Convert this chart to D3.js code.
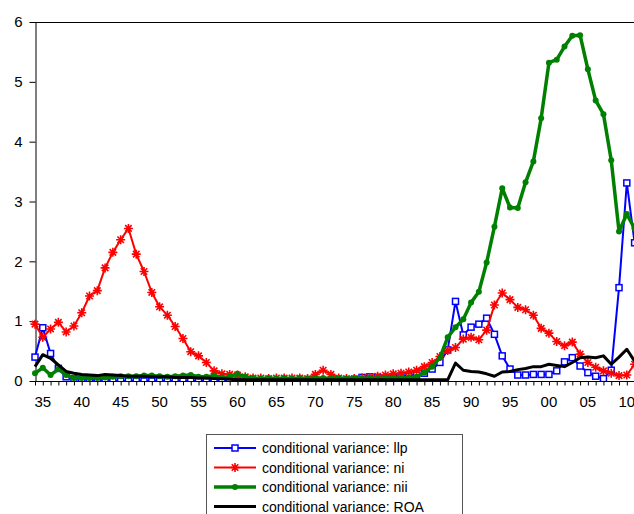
<!DOCTYPE html>
<html>
<head>
<meta charset="utf-8">
<script src="https://cdn.jsdelivr.net/npm/d3@7"></script>
<style>
  body { margin: 0; background: #fff; }
  svg { display: block; font-family: "Liberation Sans", Arial, sans-serif; }
</style>
</head>
<body>
<div id="chart"></div>
<script>
// anos 1934..2011, um valor por ano
const anos = d3.range(1934, 2012);

const llp = [
  0.40, 0.89, 0.46, 0.21, 0.07, 0.04,                               // 1934-39
  0.03, 0.02, 0.02, 0.01, 0.00, 0.00, 0.00, 0.00, 0.00, 0.00,       // 1940s
  0.00, 0.00, 0.00, 0.00, 0.00, 0.00, 0.00, 0.00, 0.00, 0.00,       // 1950s
  0.00, 0.00, 0.00, 0.00, 0.00, 0.00, 0.00, 0.00, 0.00, 0.00,       // 1960s
  0.00, 0.00, 0.00, 0.00, 0.01, 0.02, 0.06, 0.07, 0.06, 0.05,       // 1970s
  0.06, 0.08, 0.09, 0.10, 0.13, 0.20, 0.31, 0.52, 1.33, 0.77,       // 1980s
  0.90, 0.95, 1.05, 0.78, 0.42, 0.20, 0.10, 0.10, 0.11, 0.11,       // 1990s
  0.11, 0.17, 0.32, 0.39, 0.25, 0.14, 0.08, 0.04, 0.18, 1.56,       // 2000s
  3.31, 2.31                                                        // 2010-11
];
const ni = [
  0.95, 0.73, 0.87, 0.98, 0.82, 0.92,
  1.14, 1.42, 1.51, 1.89, 2.15, 2.36, 2.55, 2.12, 1.83, 1.48,
  1.24, 1.10, 0.91, 0.71, 0.49, 0.42, 0.31, 0.17, 0.12, 0.11,
  0.10, 0.07, 0.05, 0.05, 0.04, 0.05, 0.05, 0.05, 0.05, 0.04,
  0.11, 0.18, 0.11, 0.05, 0.04, 0.04, 0.05, 0.06, 0.08, 0.10,
  0.12, 0.13, 0.15, 0.18, 0.24, 0.31, 0.41, 0.51, 0.56, 0.70,
  0.73, 0.69, 0.85, 1.27, 1.47, 1.36, 1.23, 1.19, 1.10, 0.88,
  0.80, 0.66, 0.59, 0.65, 0.45, 0.31, 0.23, 0.17, 0.13, 0.09,
  0.10, 0.28
];
const nii = [
  0.13, 0.22, 0.10, 0.20, 0.10, 0.05,
  0.05, 0.05, 0.05, 0.06, 0.07, 0.08, 0.08, 0.08, 0.09, 0.09,
  0.08, 0.07, 0.08, 0.09, 0.10, 0.07, 0.07, 0.09, 0.06, 0.07,
  0.12, 0.07, 0.05, 0.04, 0.05, 0.04, 0.05, 0.04, 0.05, 0.04,
  0.05, 0.05, 0.04, 0.05, 0.04, 0.05, 0.04, 0.05, 0.04, 0.05,
  0.05, 0.05, 0.06, 0.07, 0.14, 0.24, 0.39, 0.73, 0.90, 1.03,
  1.31, 1.49, 1.98, 2.58, 3.22, 2.90, 2.89, 3.32, 3.67, 4.39,
  5.32, 5.37, 5.59, 5.77, 5.78, 5.21, 4.69, 4.46, 3.69, 2.50,
  2.79, 2.55
];
const roa = [
  0.24, 0.44, 0.38, 0.27, 0.16, 0.13,
  0.11, 0.10, 0.09, 0.11, 0.10, 0.09, 0.08, 0.08, 0.08, 0.07,
  0.07, 0.07, 0.06, 0.06, 0.06, 0.05, 0.05, 0.04, 0.04, 0.03,
  0.02, 0.02, 0.02, 0.02, 0.02, 0.02, 0.02, 0.02, 0.02, 0.02,
  0.02, 0.02, 0.02, 0.02, 0.02, 0.02, 0.02, 0.02, 0.02, 0.02,
  0.02, 0.02, 0.02, 0.02, 0.02, 0.02, 0.02, 0.02, 0.30, 0.18,
  0.16, 0.15, 0.12, 0.08, 0.15, 0.16, 0.19, 0.21, 0.24, 0.24,
  0.28, 0.26, 0.24, 0.31, 0.39, 0.40, 0.39, 0.42, 0.28, 0.40,
  0.53, 0.33
];

const yTicks = [0, 1, 2, 3, 4, 5, 6];
const xLabelAnos = d3.range(1935, 2011, 5);

const series = [
  { nome: 'conditional variance: llp', valores: llp, cor: '#0000ff', largura: 2, marca: 'quadrado' },
  { nome: 'conditional variance: ni', valores: ni, cor: '#ff0000', largura: 2, marca: 'estrela' },
  { nome: 'conditional variance: nii', valores: nii, cor: '#008000', largura: 3.5, marca: 'circulo' },
  { nome: 'conditional variance: ROA', valores: roa, cor: '#000000', largura: 3, marca: null }
];

const largura = 634, altura = 514;
const esq = 35, topo = 22, base = 381;

const svg = d3.select('#chart').append('svg').attr('width', largura).attr('height', altura);

const x = d3.scaleLinear().domain([1934, 2011]).range([esq, 634.6]);
const y = d3.scaleLinear().domain([0, 6]).range([base, topo]);

// recorte da area do grafico (so corta abaixo do eixo)
svg.append('clipPath').attr('id', 'recorte')
  .append('rect').attr('x', 0).attr('y', 0).attr('width', 700).attr('height', base);

// moldura superior
svg.append('line').attr('x1', esq).attr('x2', 700).attr('y1', topo + 0.5).attr('y2', topo + 0.5)
  .attr('stroke', '#000').attr('stroke-width', 1);

// eixo y
const eixoY = svg.append('g').attr('transform', `translate(${esq + 0.5},0)`)
  .call(d3.axisLeft(y).tickValues(yTicks).tickSize(6).tickSizeOuter(0).tickPadding(7).tickFormat(d3.format('d')));
eixoY.select('.domain').attr('stroke', '#000');
eixoY.selectAll('text').style('font-size', '15px').attr('fill', '#000');

// eixo x: marcas por ano, rotulos a cada 5 anos
const eixoX = svg.append('g').attr('transform', `translate(0,${base + 0.5})`)
  .call(d3.axisBottom(x).tickValues(anos).tickSize(4).tickSizeOuter(0).tickFormat(''));
eixoX.select('.domain').attr('d', `M${esq},0H700`).attr('stroke', '#000');
svg.append('g').selectAll('text').data(xLabelAnos).enter().append('text')
  .attr('x', d => x(d)).attr('y', 407)
  .attr('text-anchor', 'middle')
  .style('font-size', '15px')
  .text(d => String(d % 100).padStart(2, '0'));

function desenharMarca(g, tipo, cor, px, py) {
  if (tipo === 'quadrado') {
    g.append('rect').attr('x', px - 3).attr('y', py - 3).attr('width', 6).attr('height', 6)
      .attr('fill', '#fff').attr('stroke', cor).attr('stroke-width', 1.5);
  } else if (tipo === 'estrela') {
    const r = 4.5, d = r * 0.72;
    g.append('path')
      .attr('d', `M${px - r},${py}H${px + r}M${px},${py - r}V${py + r}M${px - d},${py - d}L${px + d},${py + d}M${px - d},${py + d}L${px + d},${py - d}`)
      .attr('stroke', cor).attr('stroke-width', 1.6).attr('fill', 'none');
  } else if (tipo === 'circulo') {
    g.append('circle').attr('cx', px).attr('cy', py).attr('r', 3).attr('fill', cor);
  }
}

const linha = d3.line().x((d, i) => x(anos[i])).y(d => y(d));

const plot = svg.append('g').attr('clip-path', 'url(#recorte)');
series.forEach(s => {
  const g = plot.append('g');
  g.append('path').datum(s.valores).attr('d', linha)
    .attr('fill', 'none').attr('stroke', s.cor).attr('stroke-width', s.largura)
    .attr('stroke-linejoin', 'round');
  if (s.marca) {
    s.valores.forEach((v, i) => desenharMarca(g, s.marca, s.cor, x(anos[i]), y(v)));
  }
});

// legenda
const leg = svg.append('g');
leg.append('rect').attr('x', 206.5).attr('y', 434.5).attr('width', 256).attr('height', 100)
  .attr('fill', '#fff').attr('stroke', '#555').attr('stroke-width', 1);
series.forEach((s, i) => {
  const ly = 448 + i * 19.5;
  leg.append('line').attr('x1', 214).attr('x2', 256).attr('y1', ly).attr('y2', ly)
    .attr('stroke', s.cor).attr('stroke-width', s.largura);
  if (s.marca) desenharMarca(leg, s.marca, s.cor, 235, ly);
  leg.append('text').attr('x', 262).attr('y', ly + 5).style('font-size', '14px').text(s.nome);
});
</script>
</body>
</html>
